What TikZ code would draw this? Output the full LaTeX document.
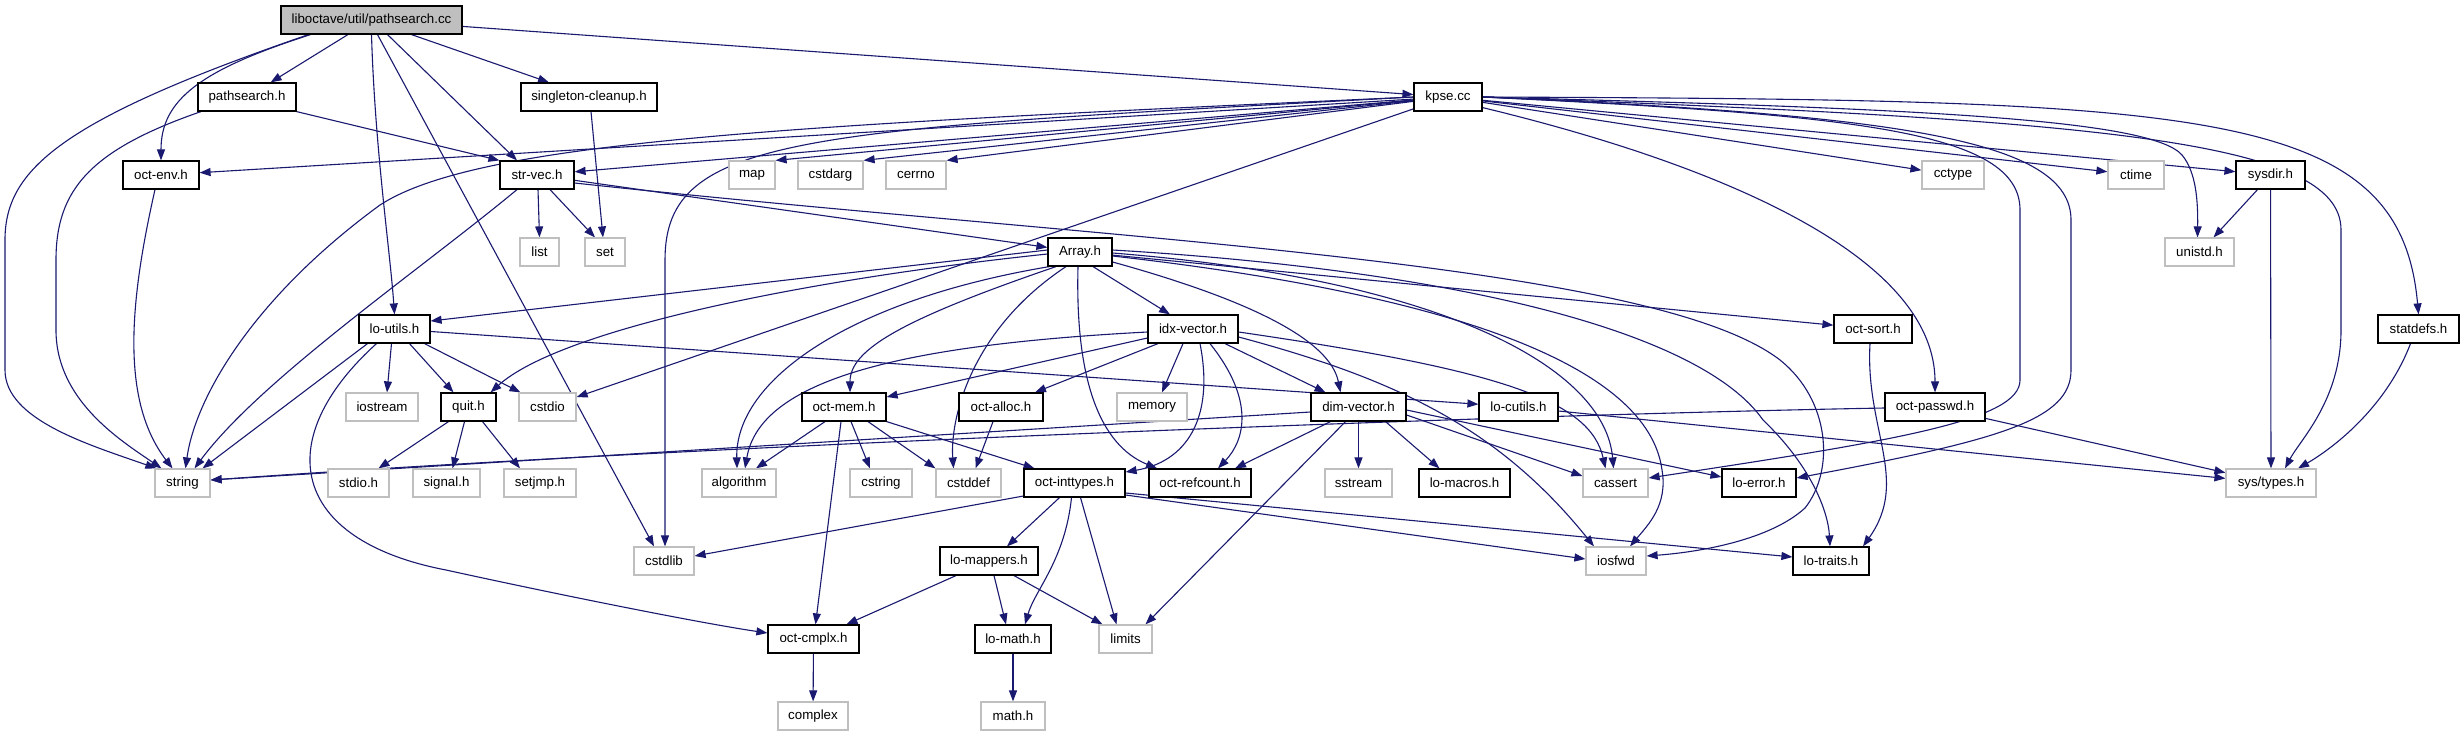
\documentclass[tikz,border=0pt]{standalone}
\usepackage{fontspec}
\setmainfont{Liberation Sans}
\usetikzlibrary{arrows.meta,backgrounds}
\definecolor{navy}{HTML}{191970}
\definecolor{boxgray}{HTML}{BFBFBF}
\tikzset{
  basebox/.style={rectangle, inner sep=0pt, minimum height=28pt, fill=white, line width=1.2pt, font=\fontsize{13.3}{15}\selectfont},
  doc/.style={basebox, draw=black},
  sys/.style={basebox, draw=boxgray},
  rootnode/.style={basebox, draw=black, fill=boxgray},
  e/.style={draw=navy, line width=1.1pt, -{Triangle[length=11pt,width=8pt]}},
}
\begin{document}
\begin{tikzpicture}[x=1pt,y=-1pt]
\useasboundingbox (0,0) rectangle (2464,736);
% nodes
\node[rootnode,minimum width=181pt] (root) at (371.5,20) {liboctave/util/pathsearch.cc};
\node[doc,minimum width=98pt] (psh) at (247,97) {pathsearch.h};
\node[doc,minimum width=136pt] (sing) at (589,97) {singleton-cleanup.h};
\node[doc,minimum width=68pt] (kpse) at (1448,97) {kpse.cc};
\node[doc,minimum width=76pt] (env) at (161,175) {oct-env.h};
\node[doc,minimum width=74pt] (strv) at (537,175) {str-vec.h};
\node[sys,minimum width=46pt] (map) at (752,175) {map};
\node[sys,minimum width=65pt] (cstdarg) at (830.5,175) {cstdarg};
\node[sys,minimum width=60pt] (cerrno) at (916,175) {cerrno};
\node[sys,minimum width=62pt] (cctype) at (1953,175) {cctype};
\node[sys,minimum width=56pt] (ctime) at (2136,175) {ctime};
\node[doc,minimum width=69pt] (sysdir) at (2270.5,175) {sysdir.h};
\node[sys,minimum width=39pt] (list) at (539.5,252) {list};
\node[sys,minimum width=40pt] (set) at (605,252) {set};
\node[doc,minimum width=64pt] (arr) at (1080,252) {Array.h};
\node[sys,minimum width=69pt] (unistd) at (2199.5,252) {unistd.h};
\node[doc,minimum width=71pt] (loutils) at (394.5,329) {lo-utils.h};
\node[doc,minimum width=90pt] (idx) at (1193,329) {idx-vector.h};
\node[doc,minimum width=78pt] (osort) at (1873,329) {oct-sort.h};
\node[doc,minimum width=81pt] (statdefs) at (2418.5,329) {statdefs.h};
\node[sys,minimum width=72pt] (iostream) at (382,407) {iostream};
\node[doc,minimum width=55pt] (quit) at (468.5,407) {quit.h};
\node[sys,minimum width=57pt] (cstdio) at (547.5,407) {cstdio};
\node[doc,minimum width=84pt] (omem) at (844,407) {oct-mem.h};
\node[doc,minimum width=84pt] (oalloc) at (1001,407) {oct-alloc.h};
\node[sys,minimum width=70pt] (memory) at (1152,407) {memory};
\node[doc,minimum width=95pt] (dimv) at (1358.5,407) {dim-vector.h};
\node[doc,minimum width=79pt] (locutils) at (1518.5,407) {lo-cutils.h};
\node[doc,minimum width=100pt] (opasswd) at (1935,407) {oct-passwd.h};
\node[sys,minimum width=55pt] (string) at (182.5,483) {string};
\node[sys,minimum width=61pt] (stdioh) at (358.5,483) {stdio.h};
\node[sys,minimum width=67pt] (signal) at (446.5,483) {signal.h};
\node[sys,minimum width=72pt] (setjmp) at (540,483) {setjmp.h};
\node[sys,minimum width=74pt] (algorithm) at (739,483) {algorithm};
\node[sys,minimum width=62pt] (cstring) at (881,483) {cstring};
\node[sys,minimum width=65pt] (cstddef) at (968.5,483) {cstddef};
\node[doc,minimum width=101pt] (oint) at (1074.5,483) {oct-inttypes.h};
\node[doc,minimum width=102pt] (oref) at (1200,483) {oct-refcount.h};
\node[sys,minimum width=67pt] (sstream) at (1358.5,483) {sstream};
\node[doc,minimum width=91pt] (lomacros) at (1464.5,483) {lo-macros.h};
\node[sys,minimum width=65pt] (cassert) at (1615.5,483) {cassert};
\node[doc,minimum width=74pt] (loerror) at (1759,483) {lo-error.h};
\node[sys,minimum width=90pt] (systypes) at (2271,483) {sys/types.h};
\node[sys,minimum width=60pt] (cstdlib) at (664,561) {cstdlib};
\node[doc,minimum width=98pt] (lomappers) at (989,561) {lo-mappers.h};
\node[sys,minimum width=60pt] (iosfwd) at (1616,561) {iosfwd};
\node[doc,minimum width=76pt] (lotraits) at (1831,561) {lo-traits.h};
\node[doc,minimum width=91pt] (ocmplx) at (813.5,639) {oct-cmplx.h};
\node[doc,minimum width=76pt] (lomath) at (1013,639) {lo-math.h};
\node[sys,minimum width=53pt] (limits) at (1125.5,639) {limits};
\node[sys,minimum width=70pt] (complex) at (813,716) {complex};
\node[sys,minimum width=64pt] (mathh) at (1013,716) {math.h};

\begin{pgfonlayer}{background}
\fill[white] (0,0) rectangle (2464,736);
% root
\draw[e] ([xshift=-63]root.south) .. controls (60,120) and (5,170) .. (5,240) -- (5,370) .. controls (5,420) and (90,445) .. ([xshift=2]string.north west);
\draw[e] ([xshift=-61]root.south) .. controls (200,70) and (161,100) .. (env.north);
\draw[e] (root) -- (psh);
\draw[e] (root.south) .. controls (375,150) and (390,250) .. (loutils.north);
\draw[e] ([xshift=6]root.south) -- ([xshift=-10]cstdlib.north);
\draw[e] ([xshift=16]root.south) -- ([xshift=-20]strv.north);
\draw[e] ([xshift=40]root.south) -- ([xshift=-40]sing.north);
\draw[e] (root) -- (kpse);
% pathsearch.h
\draw[e] ([xshift=-46]psh.south) .. controls (90,150) and (56,190) .. (56,260) -- (56,330) .. controls (56,400) and (120,440) .. ([xshift=-21]string.north);
\draw[e] (psh.south east) -- (strv.north west);
% singleton
\draw[e] ([xshift=2]sing.south) -- ([xshift=-2]set.north);
% oct-env
\draw[e] ([xshift=-6]env.south) .. controls (130,300) and (120,400) .. ([xshift=-10]string.north);
% str-vec
\draw[e] ([xshift=1]strv.south) -- (list.north);
\draw[e] ([xshift=13]strv.south) -- ([xshift=-10]set.north);
\draw[e] ([xshift=-20]strv.south) .. controls (420,270) and (260,380) .. ([xshift=12]string.north);
\draw[e] (strv) -- (arr);
\draw[e] ([yshift=-8]strv.east) .. controls (1100,240) and (1650,260) .. (1780,360) .. controls (1830,400) and (1835,470) .. (1805,508) .. controls (1770,540) and (1700,552) .. ([yshift=5]iosfwd.east);
% kpse
\draw[e] (kpse) -- (env);
\draw[e] (kpse) -- (strv);
\draw[e] (kpse.west) .. controls (800,125) and (480,140) .. (380,205) .. controls (250,300) and (195,400) .. ([xshift=3]string.north);
\draw[e] (kpse) -- (map.north east);
\draw[e] (kpse) -- (cstdarg.north east);
\draw[e] (kpse) -- (cerrno.north east);
\draw[e] (kpse.west) .. controls (800,130) and (665,135) .. (665,260) -- ([xshift=1]cstdlib.north);
\draw[e] (kpse) -- (cstdio);
\draw[e] ([yshift=4]kpse.south east) .. controls (1700,160) and (1935,250) .. (opasswd.north);
\draw[e] (kpse) -- (cctype);
\draw[e] (kpse) -- (ctime);
\draw[e] (kpse) -- (sysdir);
\draw[e] (kpse.east) .. controls (1900,108) and (2150,118) .. (2182,155) .. controls (2196,172) and (2198,200) .. ([xshift=-2]unistd.north);
\draw[e] (kpse.east) .. controls (2100,120) and (2341,140) .. (2341,230) -- (2341,330) .. controls (2341,400) and (2300,440) .. ([xshift=14]systypes.north);
\draw[e] (kpse.east) .. controls (2200,100) and (2400,105) .. (statdefs.north);
\draw[e] (kpse.east) .. controls (1850,115) and (2020,130) .. (2020,210) -- (2020,380) .. controls (2020,420) and (1900,440) .. ([yshift=5]cassert.east);
\draw[e] (kpse.east) .. controls (1900,115) and (2071,140) .. (2071,220) -- (2071,370) .. controls (2071,420) and (2000,440) .. ([yshift=5]loerror.east);
% Array.h
\draw[e] ([yshift=2]arr.west) -- ([yshift=8]loutils.east);
\draw[e] ([yshift=-2]arr.west) .. controls (800,280) and (560,330) .. ([xshift=22]quit.north);
\draw[e] ([xshift=2]arr.south west) .. controls (850,300) and (735,380) .. ([xshift=-2]algorithm.north);
\draw[e] ([xshift=-24]arr.south) .. controls (900,320) and (850,350) .. ([xshift=6]omem.north);
\draw[e] ([xshift=-14]arr.south) .. controls (970,330) and (950,420) .. ([xshift=-15]cstddef.north);
\draw[e] ([xshift=-2]arr.south) .. controls (1075,380) and (1100,445) .. ([xshift=-43]oref.north);
\draw[e] ([xshift=13]arr.south) -- ([xshift=-23]idx.north);
\draw[e] ([yshift=-10]arr.east) .. controls (1250,300) and (1330,340) .. ([xshift=-18]dimv.north);
\draw[e] (arr) -- (osort);
\draw[e] ([yshift=-1]arr.east) .. controls (1450,280) and (1605,370) .. ([xshift=-2]cassert.north);
\draw[e] ([yshift=-4]arr.east) .. controls (1500,300) and (1650,380) .. (1662,470) .. controls (1668,505) and (1648,525) .. ([xshift=14]iosfwd.north);
\draw[e] ([yshift=2]arr.east) .. controls (1450,270) and (1700,330) .. (1763,420) .. controls (1810,465) and (1828,510) .. ([xshift=-1]lotraits.north);
% idx-vector.h
\draw[e] ([yshift=-9]idx.west) -- ([yshift=10]omem.east);
\draw[e] ([xshift=-35]idx.south) -- ([xshift=34]oalloc.north);
\draw[e] ([xshift=-10]idx.south) -- ([xshift=10]memory.north);
\draw[e] ([xshift=7]idx.south) .. controls (1215,420) and (1185,462) .. ([yshift=11]oint.east);
\draw[e] ([xshift=17]idx.south) .. controls (1255,400) and (1245,440) .. ([xshift=18]oref.north);
\draw[e] ([xshift=32]idx.south) -- ([xshift=-33]dimv.north);
\draw[e] ([yshift=-3]idx.west) .. controls (900,345) and (760,380) .. ([xshift=6]algorithm.north);
\draw[e] ([yshift=-3]idx.east) .. controls (1500,370) and (1590,400) .. ([xshift=-10]cassert.north);
\draw[e] ([yshift=-8]idx.east) .. controls (1400,380) and (1500,430) .. ([xshift=-22]iosfwd.north);
% dim-vector.h
\draw[e] ([yshift=-5]dimv.west) -- ([yshift=3]string.east);
\draw[e] ([xshift=-28]dimv.south) -- ([xshift=35]oref.north);
\draw[e] ([xshift=-13]dimv.south) -- ([xshift=20]limits.north);
\draw[e] (dimv) -- (sstream);
\draw[e] ([xshift=27]dimv.south) -- ([xshift=-25]lomacros.north);
\draw[e] ([yshift=-8]dimv.east) -- ([yshift=7]cassert.west);
\draw[e] ([yshift=-3]dimv.east) -- ([yshift=6]loerror.west);
% oct-passwd.h, lo-cutils.h, oct-sort.h, sysdir.h, statdefs.h
\draw[e] ([yshift=-1]opasswd.west) .. controls (1500,415) and (700,445) .. ([yshift=3]string.east);
\draw[e] (opasswd) -- (systypes);
\draw[e] (locutils) -- (systypes);
\draw[e] ([xshift=-3]osort.south) .. controls (1865,430) and (1910,480) .. ([xshift=32]lotraits.north);
\draw[e] ([xshift=-13]sysdir.south) -- ([xshift=14]unistd.north);
\draw[e] (sysdir) -- (systypes);
\draw[e] ([xshift=-8]statdefs.south) .. controls (2385,410) and (2330,450) .. ([xshift=27]systypes.north);
% lo-utils.h
\draw[e] ([xshift=-27]loutils.south) -- ([xshift=20]string.north);
\draw[e] ([xshift=-18]loutils.south) .. controls (270,440) and (290,540) .. (446,570) .. controls (560,595) and (700,623) .. ([yshift=6]ocmplx.west);
\draw[e] ([xshift=-3]loutils.south) -- ([xshift=5]iostream.north);
\draw[e] ([xshift=15]loutils.south) -- ([xshift=-15]quit.north);
\draw[e] ([xshift=30]loutils.south) -- ([xshift=-27]cstdio.north);
\draw[e] (loutils) -- (locutils);
% quit.h
\draw[e] ([xshift=-20]quit.south) -- ([xshift=20]stdioh.north);
\draw[e] ([xshift=-4]quit.south) -- ([xshift=6]signal.north);
\draw[e] ([xshift=14]quit.south) -- ([xshift=-20]setjmp.north);
% oct-mem.h
\draw[e] ([xshift=-19]omem.south) -- ([xshift=17]algorithm.north);
\draw[e] ([xshift=-3]omem.south) -- ([xshift=2]ocmplx.north);
\draw[e] ([xshift=7]omem.south) -- ([xshift=-11]cstring.north);
\draw[e] ([xshift=24]omem.south) -- (cstddef.north west);
\draw[e] (omem.south east) -- ([xshift=-40]oint.north);
% oct-alloc.h
\draw[e] ([xshift=-8]oalloc.south) -- ([xshift=7]cstddef.north);
% oct-inttypes.h
\draw[e] ([yshift=-13]oint.west) -- ([yshift=5]cstdlib.east);
\draw[e] ([xshift=-15]oint.south) -- ([xshift=18]lomappers.north);
\draw[e] ([xshift=-3]oint.south) .. controls (1065,560) and (1035,590) .. ([xshift=12]lomath.north);
\draw[e] ([xshift=6]oint.south) -- ([xshift=-9]limits.north);
\draw[e] ([yshift=-12]oint.east) -- ([yshift=2]iosfwd.west);
\draw[e] ([yshift=-10]oint.east) -- ([yshift=4]lotraits.west);
% lo-mappers.h
\draw[e] ([xshift=-33]lomappers.south) -- ([xshift=33]ocmplx.north);
\draw[e] ([xshift=5]lomappers.south) -- ([xshift=-7]lomath.north);
\draw[e] ([xshift=25]lomappers.south) -- ([xshift=-23]limits.north);
% leaves
\draw[e] (ocmplx) -- (complex);
\draw[e] (lomath) -- (mathh);
\end{pgfonlayer}
\end{tikzpicture}
\end{document}
